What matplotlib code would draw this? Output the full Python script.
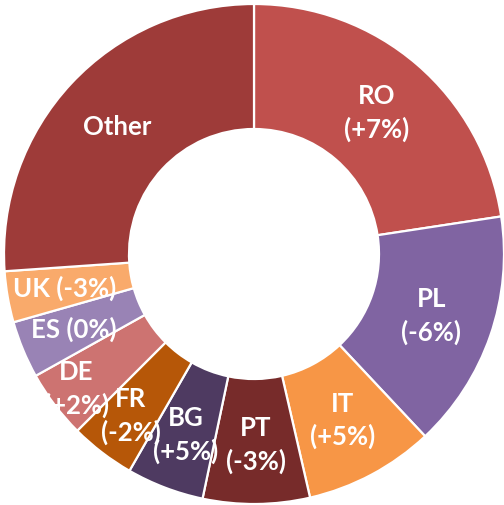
import matplotlib
matplotlib.use("Agg")
import matplotlib.pyplot as plt
import numpy as np

# share of each country, clockwise from 12 o'clock
countries = ['RO', 'PL', 'IT', 'PT', 'BG', 'FR', 'DE', 'ES', 'UK', 'Other']
shares = [22.6, 15.4, 8.4, 6.9, 5.0, 4.2, 4.4, 3.7, 3.3, 26.1]
changes = ['(+7%)', '(-6%)', '(+5%)', '(-3%)', '(+5%)', '(-2%)', '(+2%)', '(0%)', '(-3%)', '']
colors = ['#C0504D', '#8064A2', '#F79646', '#772B2A', '#4E3A61',
          '#B65708', '#CD7371', '#9983B5', '#F9AA6B', '#9E3B39']
# label layout: two lines or one, and how far out along the ring
two_lines = [True, True, True, True, True, True, True, False, False, True]
label_r = [0.75, 0.75, 0.75, 0.76, 0.77, 0.81, 0.89, 0.78, 0.77, 0.75]

fig = plt.figure(figsize=(5.04, 5.06), dpi=100)
ax = fig.add_axes([0, 0, 1, 1])

wedges, _ = ax.pie(shares, colors=colors, startangle=90, counterclock=False,
                   radius=1.0, wedgeprops=dict(width=0.5, edgecolor='white', linewidth=1.6))

for w, c, ch, two, r in zip(wedges, countries, changes, two_lines, label_r):
    mid = np.deg2rad((w.theta1 + w.theta2) / 2)
    x, y = r * np.cos(mid), r * np.sin(mid)
    if ch == '':
        txt = c
    elif two:
        txt = c + '\n' + ch
    else:
        txt = c + ' ' + ch
    ax.text(x, y, txt, ha='center', va='center', color='white',
            fontsize=18.5, fontweight='bold', family=['Lato', 'DejaVu Sans'],
            linespacing=1.4)

ax.set_xlim(-1.016, 1.0)
ax.set_ylim(-1.004, 1.02)
ax.set_aspect('auto')
ax.axis('off')

fig.savefig('out.png', dpi=100)
